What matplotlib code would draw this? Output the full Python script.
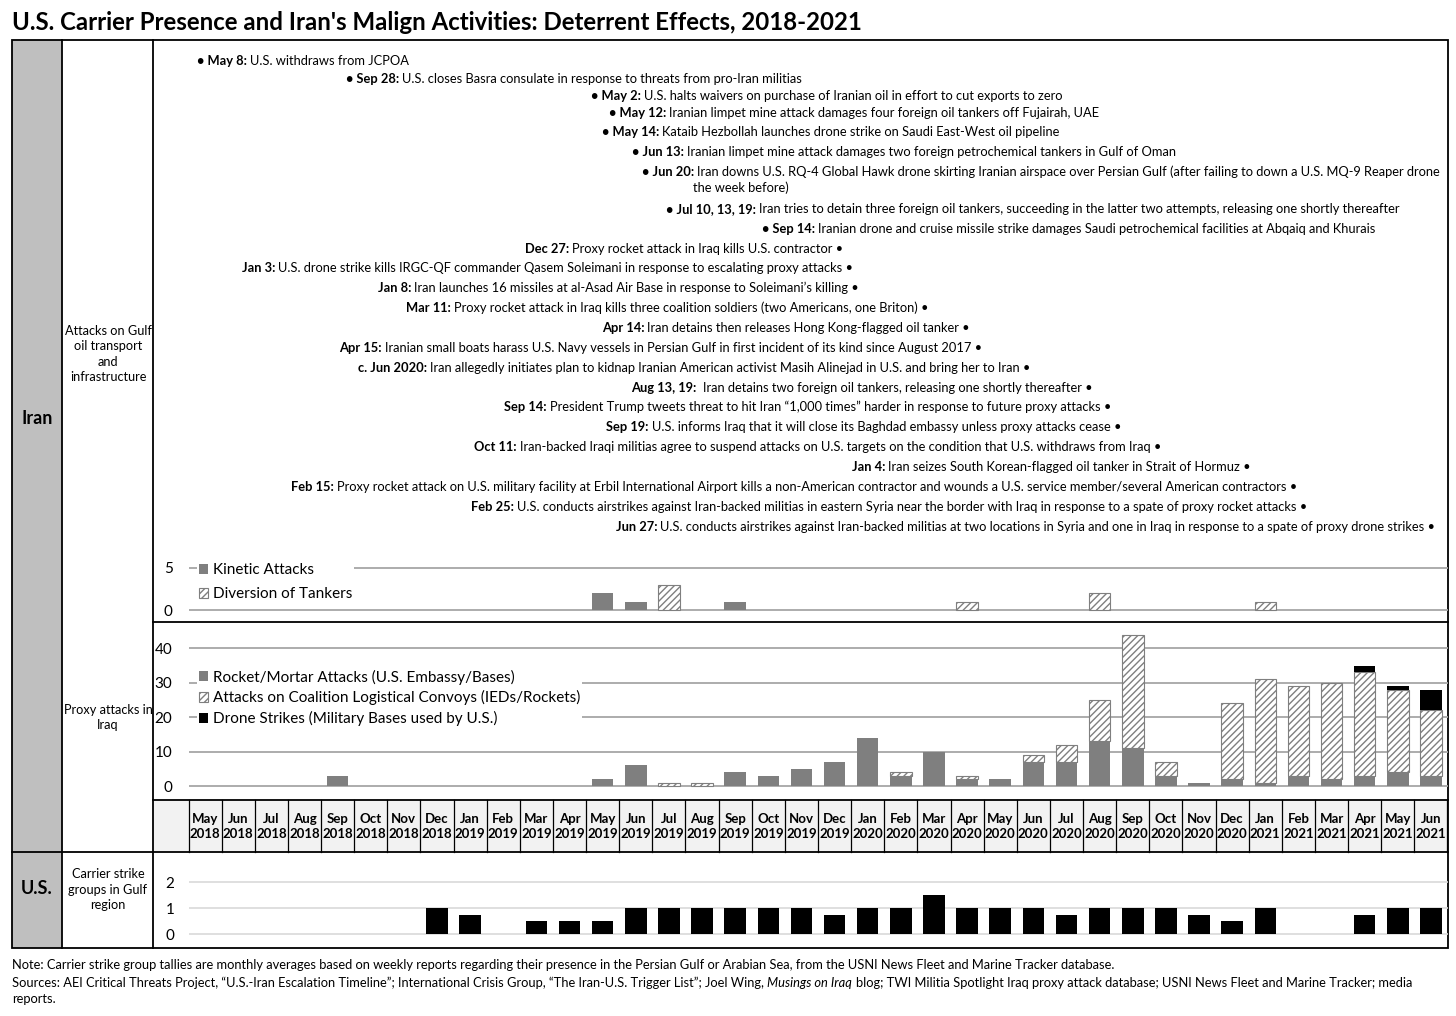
import matplotlib
matplotlib.use("Agg")
import matplotlib.pyplot as plt
from matplotlib.patches import Patch, Rectangle
from matplotlib.offsetbox import TextArea, HPacker, AnnotationBbox
import numpy as np

plt.rcParams['font.family'] = ['Lato', 'DejaVu Sans']
plt.rcParams['hatch.linewidth'] = 1.0

# ---------------- data ----------------
TITLE = "U.S. Carrier Presence and Iran's Malign Activities: Deterrent Effects, 2018-2021"

MONTH_NAMES = ["May", "Jun", "Jul", "Aug", "Sep", "Oct", "Nov", "Dec",
               "Jan", "Feb", "Mar", "Apr", "May", "Jun", "Jul", "Aug", "Sep", "Oct", "Nov", "Dec",
               "Jan", "Feb", "Mar", "Apr", "May", "Jun", "Jul", "Aug", "Sep", "Oct", "Nov", "Dec",
               "Jan", "Feb", "Mar", "Apr", "May", "Jun"]
MONTH_YEARS = ["2018"] * 8 + ["2019"] * 12 + ["2020"] * 12 + ["2021"] * 6

KINETIC = [0, 0, 0, 0, 0, 0, 0, 0, 0, 0, 0, 0, 2, 1, 0, 0, 1, 0, 0,
           0, 0, 0, 0, 0, 0, 0, 0, 0, 0, 0, 0, 0, 0, 0, 0, 0, 0, 0]
DIVERSION = [0, 0, 0, 0, 0, 0, 0, 0, 0, 0, 0, 0, 0, 0, 3, 0, 0, 0, 0,
             0, 0, 0, 0, 1, 0, 0, 0, 2, 0, 0, 0, 0, 1, 0, 0, 0, 0, 0]

ROCKET = [0, 0, 0, 0, 3, 0, 0, 0, 0, 0, 0, 0, 2, 6, 0, 0, 4, 3, 5,
          7, 14, 3, 10, 2, 2, 7, 7, 13, 11, 3, 1, 2, 1, 3, 2, 3, 4, 3]
CONVOY = [0, 0, 0, 0, 0, 0, 0, 0, 0, 0, 0, 0, 0, 0, 1, 1, 0, 0, 0,
          0, 0, 1, 0, 1, 0, 2, 5, 12, 33, 4, 0, 22, 30, 26, 28, 30, 24, 19]
DRONE = [0, 0, 0, 0, 0, 0, 0, 0, 0, 0, 0, 0, 0, 0, 0, 0, 0, 0, 0,
         0, 0, 0, 0, 0, 0, 0, 0, 0, 0, 0, 0, 0, 0, 0, 0, 2, 1, 6]

CARRIERS = [0, 0, 0, 0, 0, 0, 0, 1, 0.75, 0, 0.5, 0.5, 0.5, 1, 1, 1, 1, 1, 1,
            0.75, 1, 1, 1.5, 1, 1, 1, 0.75, 1, 1, 1, 0.75, 0.5, 1, 0, 0, 0.75, 1, 1]

KIN_LABELS = ["Kinetic Attacks", "Diversion of Tankers"]
PROXY_LABELS = ["Rocket/Mortar Attacks (U.S. Embassy/Bases)",
                "Attacks on Coalition Logistical Convoys (IEDs/Rockets)",
                "Drone Strikes (Military Bases used by U.S.)"]

EVENT_DATES_A = ["May 8:", "Sep 28:", "May 2:", "May 12:", "May 14:", "Jun 13:", "Jun 20:",
                 "Jul 10, 13, 19:", "Sep 14:"]
EVENT_TEXT_A = [
    "U.S. withdraws from JCPOA",
    "U.S. closes Basra consulate in response to threats from pro-Iran militias",
    "U.S. halts waivers on purchase of Iranian oil in effort to cut exports to zero",
    "Iranian limpet mine attack damages four foreign oil tankers off Fujairah, UAE",
    "Kataib Hezbollah launches drone strike on Saudi East-West oil pipeline",
    "Iranian limpet mine attack damages two foreign petrochemical tankers in Gulf of Oman",
    "Iran downs U.S. RQ-4 Global Hawk drone skirting Iranian airspace over Persian Gulf (after failing to down a U.S. MQ-9 Reaper drone",
    "Iran tries to detain three foreign oil tankers, succeeding in the latter two attempts, releasing one shortly thereafter",
    "Iranian drone and cruise missile strike damages Saudi petrochemical facilities at Abqaiq and Khurais",
]
EVENT_CONT = "the week before)"

EVENT_DATES_B = ["Dec 27:", "Jan 3:", "Jan 8:", "Mar 11:", "Apr 14:", "Apr 15:", "c. Jun 2020:",
                 "Aug 13, 19:", "Sep 14:", "Sep 19:", "Oct 11:", "Jan 4:", "Feb 15:", "Feb 25:", "Jun 27:"]
EVENT_TEXT_B = [
    "Proxy rocket attack in Iraq kills U.S. contractor",
    "U.S. drone strike kills IRGC-QF commander Qasem Soleimani in response to escalating proxy attacks",
    "Iran launches 16 missiles at al-Asad Air Base in response to Soleimani\u2019s killing",
    "Proxy rocket attack in Iraq kills three coalition soldiers (two Americans, one Briton)",
    "Iran detains then releases Hong Kong-flagged oil tanker",
    "Iranian small boats harass U.S. Navy vessels in Persian Gulf in first incident of its kind since August 2017",
    "Iran allegedly initiates plan to kidnap Iranian American activist Masih Alinejad in U.S. and bring her to Iran",
    " Iran detains two foreign oil tankers, releasing one shortly thereafter",
    "President Trump tweets threat to hit Iran \u201c1,000 times\u201d harder in response to future proxy attacks",
    "U.S. informs Iraq that it will close its Baghdad embassy unless proxy attacks cease",
    "Iran-backed Iraqi militias agree to suspend attacks on U.S. targets on the condition that U.S. withdraws from Iraq",
    "Iran seizes South Korean-flagged oil tanker in Strait of Hormuz",
    "Proxy rocket attack on U.S. military facility at Erbil International Airport kills a non-American contractor and wounds a U.S. service member/several American contractors",
    "U.S. conducts airstrikes against Iran-backed militias in eastern Syria near the border with Iraq in response to a spate of proxy rocket attacks",
    "U.S. conducts airstrikes against Iran-backed militias at two locations in Syria and one in Iraq in response to a spate of proxy drone strikes",
]

NOTE = ("Note: Carrier strike group tallies are monthly averages based on weekly reports regarding their "
        "presence in the Persian Gulf or Arabian Sea, from the USNI News Fleet and Marine Tracker database.")
SOURCES_1 = ("Sources: AEI Critical Threats Project, \u201cU.S.-Iran Escalation Timeline\u201d; International Crisis Group, "
             "\u201cThe Iran-U.S. Trigger List\u201d; Joel Wing,")
SOURCES_IT = "Musings on Iraq"
SOURCES_2 = "blog; TWI Militia Spotlight Iraq proxy attack database; USNI News Fleet and Marine Tracker; media"
SOURCES_3 = "reports."

# ---------------- layout (pixels) ----------------
W, H = 1456, 1016
X0, X1 = 188.5, 1447.5
GRAY = '#7F7F7F'
HATCH = '/////'

# annotation anchors (pixel x of bullet start / end, pixel y of line)
A_X = [197, 346, 591, 609, 602, 632, 642, 666, 762]
A_Y = [61, 79, 96, 113, 132, 152, 172, 209, 229]
CONT_XY = (693, 188)
B_X = [843, 853, 859, 928, 970, 982, 1030, 1093, 1111, 1121, 1161, 1251, 1297, 1307, 1435]
B_Y = [249, 268, 288, 308, 328, 348, 368, 388, 407, 427, 447, 467, 487, 507, 527]

fig = plt.figure(figsize=(W / 100, H / 100), dpi=100)

ov = fig.add_axes([0, 0, 1, 1])
ov.set_xlim(0, W)
ov.set_ylim(H, 0)
ov.axis('off')


def px_axes(x0, y0, x1, y1):
    ax = fig.add_axes([x0 / W, 1 - y1 / H, (x1 - x0) / W, (y1 - y0) / H])
    ax.set_facecolor('none')
    for s in ax.spines.values():
        s.set_visible(False)
    ax.set_xlim(-0.5, len(MONTH_NAMES) - 0.5)
    ax.set_xticks([])
    return ax


def set_ylim_px(ax, zero_px, ppu, top_px, bot_px):
    ax.set_ylim(-(bot_px - zero_px) / ppu, (zero_px - top_px) / ppu)


# background fills
ov.add_patch(Rectangle((12, 40), 50, 908, facecolor='#BFBFBF', edgecolor='none', zorder=0))
ov.add_patch(Rectangle((153, 800), 1295, 52, facecolor='#F2F2F2', edgecolor='none', zorder=0))

# table lines
lw = 1.3
ov.add_patch(Rectangle((12, 40), 1436, 908, facecolor='none', edgecolor='black', lw=lw, zorder=5))
ov.plot([62, 62], [40, 948], color='black', lw=lw, zorder=5)
ov.plot([153, 153], [40, 948], color='black', lw=lw, zorder=5)
ov.plot([12, 1448], [852, 852], color='black', lw=lw, zorder=5)
ov.plot([153, 1448], [622, 622], color='black', lw=lw, zorder=5)
ov.plot([153, 1448], [800, 800], color='black', lw=lw, zorder=5)

n = len(MONTH_NAMES)
cw = (X1 - X0) / n
for k in range(n + 1):
    xx = X0 + cw * k
    ov.plot([xx, xx], [800, 852], color='black', lw=0.9, zorder=5)
for i, (m, y) in enumerate(zip(MONTH_NAMES, MONTH_YEARS)):
    ov.text(X0 + cw * (i + 0.5), 826.5, f"{m}\n{y}", ha='center', va='center',
            fontsize=9.5, fontweight='bold', linespacing=1.25)

# title & row labels
ov.text(12, 22, TITLE, ha='left', va='center', fontsize=17.3, fontweight='bold')
ov.text(37, 418, "Iran", ha='center', va='center', fontsize=13, fontweight='bold')
ov.text(37, 888, "U.S.", ha='center', va='center', fontsize=13, fontweight='bold')
ov.text(108, 354, "Attacks on Gulf\noil transport\nand\ninfrastructure", ha='center', va='center',
        fontsize=9.2, linespacing=1.35)
ov.text(108, 717.5, "Proxy attacks in\nIraq", ha='center', va='center', fontsize=9.2, linespacing=1.35)
ov.text(108, 889.5, "Carrier strike\ngroups in Gulf\nregion", ha='center', va='center',
        fontsize=9.2, linespacing=1.35)

# annotations
AFS = 9.25


def packed(parts, sep=2.0):
    kids = [TextArea(t, textprops=dict(fontsize=AFS, fontweight=w, fontstyle=st, color='black'))
            for t, w, st in parts]
    return HPacker(children=kids, align='baseline', pad=0, sep=sep)


for d, t, x, y in zip(EVENT_DATES_A, EVENT_TEXT_A, A_X, A_Y):
    box = packed([("\u2022 " + d, 'bold', 'normal'), (t, 'normal', 'normal')])
    ab = AnnotationBbox(box, (x, y), xycoords='data', box_alignment=(0, 0.5), frameon=False, pad=0)
    ov.add_artist(ab)
ov.text(CONT_XY[0], CONT_XY[1], EVENT_CONT, ha='left', va='center', fontsize=AFS)

for d, t, x, y in zip(EVENT_DATES_B, EVENT_TEXT_B, B_X, B_Y):
    box = packed([(d, 'bold', 'normal'), (t.strip() + " \u2022", 'normal', 'normal')],
                 sep=5.0 if t.startswith(" ") else 2.0)
    ab = AnnotationBbox(box, (x, y), xycoords='data', box_alignment=(1, 0.5), frameon=False, pad=0)
    ov.add_artist(ab)

# footer
FFS = 9.25
ov.text(12, 965, NOTE, ha='left', va='center', fontsize=FFS)
src = HPacker(children=[TextArea(SOURCES_1, textprops=dict(fontsize=FFS)),
                        TextArea(SOURCES_IT, textprops=dict(fontsize=FFS, fontstyle='italic')),
                        TextArea(SOURCES_2, textprops=dict(fontsize=FFS))],
              align='baseline', pad=0, sep=2.5)
ov.add_artist(AnnotationBbox(src, (12, 983), xycoords='data', box_alignment=(0, 0.5), frameon=False, pad=0))
ov.text(12, 999, SOURCES_3, ha='left', va='center', fontsize=FFS)

x = np.arange(n)
bw = 0.65

# ---- kinetic panel ----
kin = px_axes(X0, 556, X1, 621)
set_ylim_px(kin, 610, 8.42, 556, 621)
kv = np.array(KINETIC, float)
dv = np.array(DIVERSION, float)
m1 = kv > 0
kin.bar(x[m1], kv[m1], width=bw, color=GRAY, zorder=3)
m2 = dv > 0
kin.bar(x[m2], dv[m2], bottom=kv[m2], width=bw, facecolor='white', edgecolor=GRAY,
        hatch=HATCH, lw=0.8, zorder=3)
kin.set_yticks([0, 5])
kin.yaxis.grid(True, color='#A6A6A6', lw=1.3)
kin.set_axisbelow(True)
kin.tick_params(axis='y', length=0, pad=11.5, labelsize=11)

kh = [Patch(facecolor=GRAY, label=KIN_LABELS[0]),
      Patch(facecolor='white', edgecolor=GRAY, hatch=HATCH, lw=0.8, label=KIN_LABELS[1])]
kin.legend(handles=kh, loc='upper left', bbox_to_anchor=(197 / W, 1 - 561.5 / H),
           bbox_transform=fig.transFigure, fontsize=11, handlelength=0.65, handleheight=0.65,
           handletextpad=0.3, labelspacing=0.68, borderpad=0.1, borderaxespad=0,
           frameon=True, fancybox=False, framealpha=1, facecolor='white', edgecolor='none')

# ---- proxy panel ----
prox = px_axes(X0, 624, X1, 799)
set_ylim_px(prox, 786, 3.4425, 624, 799)
rv = np.array(ROCKET, float)
cv = np.array(CONVOY, float)
drv = np.array(DRONE, float)
m = rv > 0
prox.bar(x[m], rv[m], width=bw, color=GRAY, zorder=3)
m = cv > 0
prox.bar(x[m], cv[m], bottom=rv[m], width=bw, facecolor='white', edgecolor=GRAY,
         hatch=HATCH, lw=0.8, zorder=3)
m = drv > 0
prox.bar(x[m], drv[m], bottom=rv[m] + cv[m], width=bw, color='black', zorder=3)
prox.set_yticks([0, 10, 20, 30, 40])
prox.yaxis.grid(True, color='#A6A6A6', lw=1.3)
prox.set_axisbelow(True)
prox.tick_params(axis='y', length=0, pad=11.5, labelsize=11)

ph = [Patch(facecolor=GRAY, label=PROXY_LABELS[0]),
      Patch(facecolor='white', edgecolor=GRAY, hatch=HATCH, lw=0.8, label=PROXY_LABELS[1]),
      Patch(facecolor='black', label=PROXY_LABELS[2])]
prox.legend(handles=ph, loc='upper left', bbox_to_anchor=(197 / W, 1 - 668 / H),
            bbox_transform=fig.transFigure, fontsize=11, handlelength=0.65, handleheight=0.65,
            handletextpad=0.3, labelspacing=0.38, borderpad=0.1, borderaxespad=0,
            frameon=True, fancybox=False, framealpha=1, facecolor='white', edgecolor='none')

# ---- carrier panel ----
car = px_axes(X0, 854, X1, 947)
set_ylim_px(car, 934, 26, 854, 947)
cav = np.array(CARRIERS, float)
m = cav > 0
car.bar(x[m], cav[m], width=bw, color='black', zorder=3)
car.set_yticks([0, 1, 2])
car.yaxis.grid(True, color='#D9D9D9', lw=1.2)
car.set_axisbelow(True)
car.tick_params(axis='y', length=0, pad=10, labelsize=11)

fig.savefig("out.png", dpi=100)
